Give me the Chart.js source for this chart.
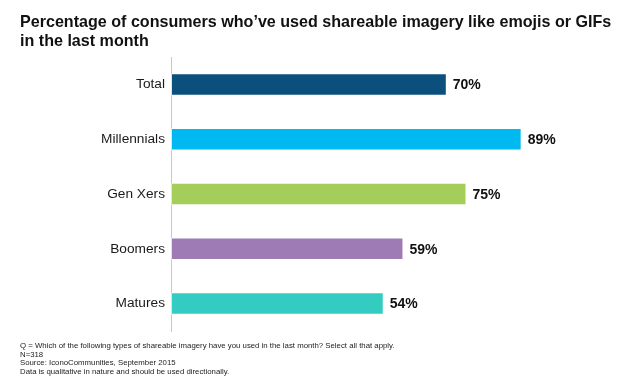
<!DOCTYPE html>
<html>
<head>
<meta charset="utf-8">
<script src="https://cdn.jsdelivr.net/npm/chart.js@4"></script>
<style>
  html, body { margin: 0; padding: 0; background: #fff; }
  #wrap { position: relative; width: 623px; height: 386px; font-family: "Liberation Sans", Arial, sans-serif; }
  #title { position: absolute; left: 20px; top: 12px; font-size: 16.5px; font-weight: bold; line-height: 19px; color: #111; white-space: nowrap; }
  #notes { position: absolute; left: 20px; top: 342px; font-size: 7.8px; line-height: 8.7px; color: #222; white-space: nowrap; }
  canvas { position: absolute; left: 0; top: 0; }
</style>
</head>
<body>
<div id="wrap">
  <canvas id="chart" width="623" height="386"></canvas>
  <div id="title"><span id="t1">Percentage of consumers who’ve used shareable imagery like emojis or GIFs</span><br>in the last month</div>
  <div id="notes">
    Q = Which of the following types of shareable imagery have you used in the last month? Select all that apply.<br>
    N=318<br>
    Source: IconoCommunities, September 2015<br>
    Data is qualitative in nature and should be used directionally.
  </div>
</div>
<script>
'use strict';

const categories = ['Total', 'Millennials', 'Gen Xers', 'Boomers', 'Matures'];
const values = [70, 89, 75, 59, 54];
const barColors = ['#0b4f7c', '#00b9f0', '#a5cd5a', '#9e7bb5', '#33ccc0'];

// shrink title font so the first line is about as wide as in the source image
const title = document.querySelector('#title');
const t1 = document.querySelector('#t1');
let fs = 16.5;
while (t1.getBoundingClientRect().width > 592 && fs > 12) {
  fs -= 0.1;
  title.style.fontSize = fs + 'px';
}

// value labels right of each bar
const valueLabels = {
  id: 'valueLabels',
  afterDatasetsDraw(chart) {
    const ctx = chart.ctx;
    const meta = chart.getDatasetMeta(0);
    ctx.save();
    ctx.font = 'bold 14px "Liberation Sans", Arial, sans-serif';
    ctx.fillStyle = '#111';
    ctx.textAlign = 'left';
    ctx.textBaseline = 'middle';
    meta.data.forEach((bar, i) => {
      ctx.fillText(values[i] + '%', bar.x + 6, bar.y + 1);
    });
    ctx.restore();
  }
};

new Chart(document.querySelector('#chart'), {
  type: 'bar',
  data: {
    labels: categories,
    datasets: [{
      data: values,
      backgroundColor: barColors,
      borderColor: 'rgba(255,255,255,0.5)',
      borderWidth: 1,
      borderSkipped: false,
      barPercentage: 0.82,
      categoryPercentage: 0.5
    }]
  },
  options: {
    indexAxis: 'y',
    responsive: false,
    animation: false,
    layout: { padding: { top: 57, bottom: 55, left: 0, right: 58 } },
    plugins: {
      legend: { display: false },
      tooltip: { enabled: false }
    },
    scales: {
      x: { display: false, min: 0, max: 100 },
      y: {
        grid: { display: false, drawTicks: false },
        border: { display: true, color: '#c8c8c8', width: 1 },
        ticks: {
          padding: 6,
          color: '#1a1a1a',
          font: { family: '"Liberation Sans", Arial, sans-serif', size: 13.7 }
        },
        afterFit(scale) { scale.width = 171; }
      }
    }
  },
  plugins: [valueLabels]
});
</script>
</body>
</html>
